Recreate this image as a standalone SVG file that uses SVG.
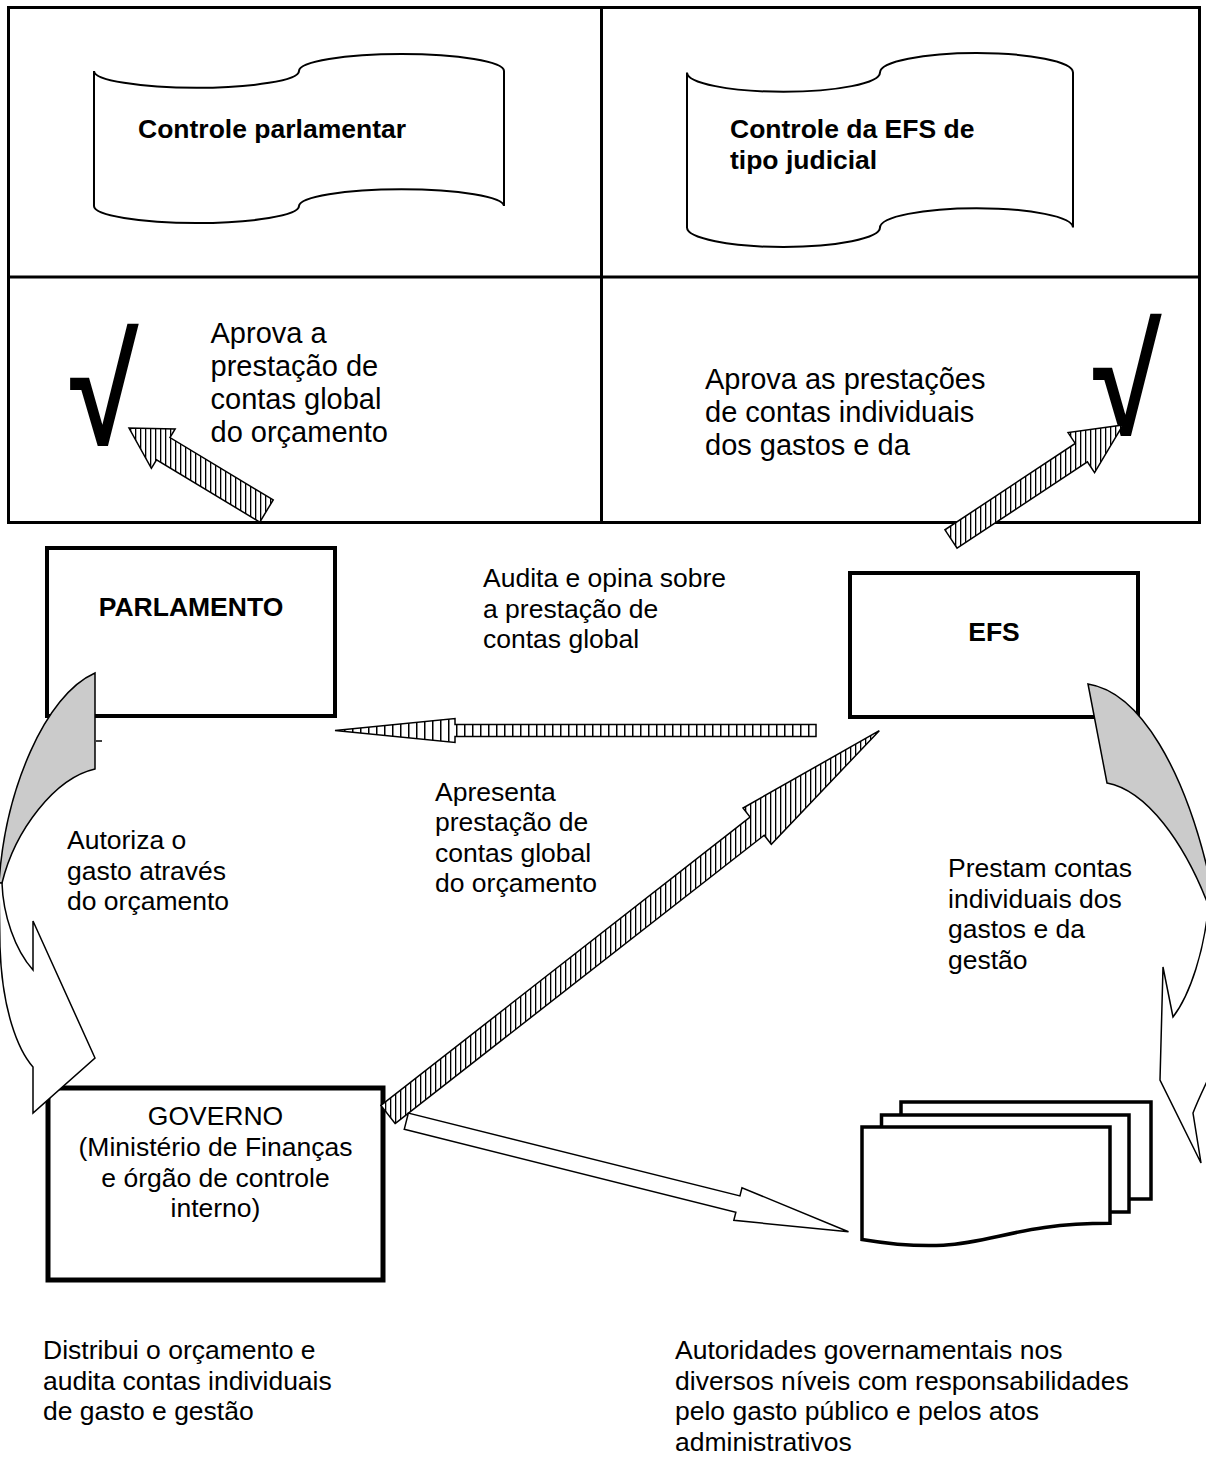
<svg xmlns="http://www.w3.org/2000/svg" width="1206" height="1458" viewBox="0 0 1206 1458">
<defs>
<style>
.t{font-family:"Liberation Sans",Arial,sans-serif;font-size:26.5px;fill:#000}
.tl{font-family:"Liberation Sans",Arial,sans-serif;font-size:29px;fill:#000}
.tb{font-family:"Liberation Sans",Arial,sans-serif;font-size:26.5px;font-weight:bold;fill:#000}
.chk{font-family:"Liberation Sans",Arial,sans-serif;font-weight:bold;font-size:152px;fill:#000}
.frame{fill:none;stroke:#000;stroke-width:3}
.scroll{fill:#fff;stroke:#000;stroke-width:2}
.box{fill:#fff;stroke:#000;stroke-width:4}
.doc{fill:#fff;stroke:#000;stroke-width:3.5}
.hatch{fill:url(#hv);stroke:#000;stroke-width:1.5;stroke-linejoin:miter}
.hatchh{fill:url(#hh);stroke:#000;stroke-width:1.5}
.white{fill:#fff;stroke:#000;stroke-width:1.5}
.grey{fill:#cbcbcb;stroke:#000;stroke-width:1.5}
</style>
<pattern id="hv" patternUnits="userSpaceOnUse" width="5" height="10">
<rect width="5" height="10" fill="#fff"/>
<rect x="0" y="0" width="1.3" height="10" fill="#000"/>
</pattern>
<pattern id="hh" patternUnits="userSpaceOnUse" width="8" height="10">
<rect width="8" height="10" fill="#fff"/>
<rect x="0" y="0" width="1.5" height="10" fill="#000"/>
</pattern>
</defs>
<rect width="1206" height="1458" fill="#fff"/>

<g id="table">
<rect class="frame" x="8.5" y="7.5" width="1191" height="515"/>
<line class="frame" x1="8.5" y1="277" x2="1199.5" y2="277"/>
<line class="frame" x1="601.5" y1="7.5" x2="601.5" y2="522.5"/>
</g>

<g id="controle-parlamentar">
<path class="scroll" d="M94,70.9 A102.5,16.9 0 0 0 299,70.9 A102.5,16.9 0 0 1 504,70.9 L504,206.1 A102.5,16.9 0 0 0 299,206.1 A102.5,16.9 0 0 1 94,206.1 Z"/>
<text class="tb" x="138" y="138">Controle parlamentar</text>
</g>

<g id="controle-efs">
<path class="scroll" d="M687,72.4 A96.5,19.4 0 0 0 880,72.4 A96.5,19.4 0 0 1 1073,72.4 L1073,227.6 A96.5,19.4 0 0 0 880,227.6 A96.5,19.4 0 0 1 687,227.6 Z"/>
<text class="tb" x="730" y="138">Controle da EFS de</text>
<text class="tb" x="730" y="168.5">tipo judicial</text>
</g>

<g id="aprova-global">
<text class="chk" transform="translate(70,444) scale(0.82,1)" x="0" y="0">√</text>
<text class="tl" x="210.5" y="343">Aprova a</text>
<text class="tl" x="210.5" y="376">prestação de</text>
<text class="tl" x="210.5" y="409">contas global</text>
<text class="tl" x="210.5" y="442">do orçamento</text>
</g>

<g id="aprova-individuais">
<text class="chk" transform="translate(1093,434) scale(0.82,1)" x="0" y="0">√</text>
<text class="tl" x="705" y="389">Aprova as prestações</text>
<text class="tl" x="705" y="422">de contas individuais</text>
<text class="tl" x="705" y="455">dos gastos e da</text>
</g>

<g id="parlamento">
<rect class="box" x="47" y="548" width="288" height="168"/>
<text class="tb" x="191" y="616" text-anchor="middle">PARLAMENTO</text>
</g>

<g id="efs">
<rect class="box" x="850" y="573" width="288" height="144"/>
<text class="tb" x="994" y="641" text-anchor="middle">EFS</text>
</g>

<g id="governo">
<rect class="box" x="48" y="1088" width="335" height="192" style="stroke-width:5"/>
<text class="t" x="215.5" y="1125" text-anchor="middle">GOVERNO</text>
<text class="t" x="215.5" y="1156" text-anchor="middle">(Ministério de Finanças</text>
<text class="t" x="215.5" y="1186.5" text-anchor="middle">e órgão de controle</text>
<text class="t" x="215.5" y="1217" text-anchor="middle">interno)</text>
</g>

<g id="autoridades">
<rect class="doc" x="901" y="1102" width="250" height="97"/>
<rect class="doc" x="881.5" y="1115" width="247.5" height="97"/>
<path class="doc" d="M862,1127 L1110,1127 L1110,1223.3 C986,1223.3 986,1259.9 862,1239.4 Z"/>
</g>

<g id="connectors">
<polygon class="hatch" points="273.2,499.9 169.97,437.54 175.14,428.98 129,428 151.36,468.36 156.53,459.8 259.78,522.13"/>
<polygon class="hatch" points="957.08,548.17 1087.39,461.8 1094.57,472.64 1123,425 1068.05,432.62 1075.23,443.46 944.92,529.83"/>
<polygon class="hatchh" points="816,724.5 455,724.5 455,718.5 335,730.5 455,742.5 455,736.5 816,736.5"/>
<polygon class="hatch" points="395.08,1123.56 764.22,835.19 771.3,844.26 879.3,730.7 742.98,808 750.06,817.07 380.92,1105.44"/>
<polygon class="white" points="404.26,1129.35 735.86,1212.22 733.83,1220.37 848.5,1231.7 741.97,1187.77 739.94,1195.92 408.34,1113.05"/>
<path class="grey" d="M95,673 L95,769 C55,778 15,830 2,883 L-1,883 C5,790 45,695 95,673 Z"/>
<path class="white" d="M33,970 L33,921 L95,1058 L33,1113 L33,1067 C18,1050 2,1010 0,947 L-1,883 L2,883 C3,915 15,950 33,970 Z"/>
<line x1="96" y1="741" x2="102" y2="741" stroke="#000" stroke-width="1.5"/>
<path class="grey" d="M1088,684 L1107,783 C1145,790 1185,840 1212,915 L1220,915 L1220,880 L1210,880 C1185,770 1140,692 1088,684 Z"/>
<path class="white" d="M1173,1017 L1163,967 L1160,1080 L1201,1163 L1193,1113 C1198,1100 1203,1090 1210,1075 L1220,1075 L1220,900 L1209,900 C1205,950 1190,995 1173,1017 Z"/>
</g>

<g id="labels">
<text class="t" x="483" y="587">Audita e opina sobre</text>
<text class="t" x="483" y="617.5">a prestação de</text>
<text class="t" x="483" y="648">contas global</text>
<text class="t" x="435" y="800.5">Apresenta</text>
<text class="t" x="435" y="831">prestação de</text>
<text class="t" x="435" y="861.5">contas global</text>
<text class="t" x="435" y="892">do orçamento</text>
<text class="t" x="67" y="849">Autoriza o</text>
<text class="t" x="67" y="879.5">gasto através</text>
<text class="t" x="67" y="910">do orçamento</text>
<text class="t" x="948" y="877">Prestam contas</text>
<text class="t" x="948" y="907.5">individuais dos</text>
<text class="t" x="948" y="938">gastos e da</text>
<text class="t" x="948" y="968.5">gestão</text>
<text class="t" x="43" y="1359">Distribui o orçamento e</text>
<text class="t" x="43" y="1389.5">audita contas individuais</text>
<text class="t" x="43" y="1420">de gasto e gestão</text>
<text class="t" x="675" y="1359">Autoridades governamentais nos</text>
<text class="t" x="675" y="1389.5">diversos níveis com responsabilidades</text>
<text class="t" x="675" y="1420">pelo gasto público e pelos atos</text>
<text class="t" x="675" y="1450.5">administrativos</text>
</g>
</svg>
